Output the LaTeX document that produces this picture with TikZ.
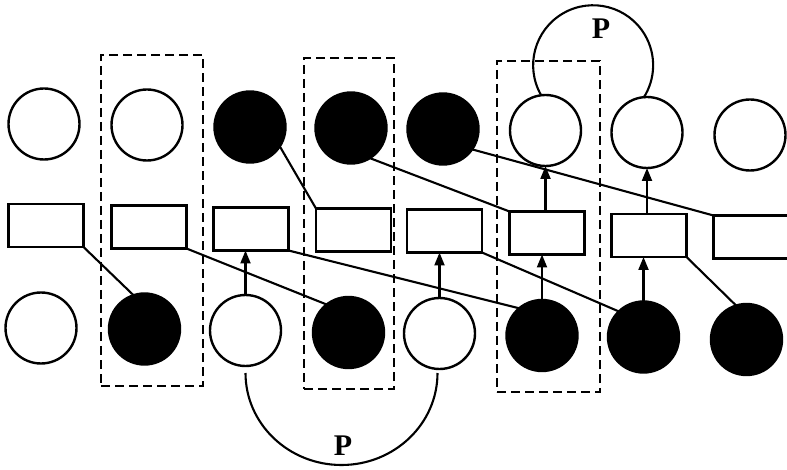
\documentclass[tikz,border=0pt]{standalone}
\usepackage{fontspec}
\setmainfont{Liberation Serif}
\usetikzlibrary{arrows.meta}
\begin{document}
\begin{tikzpicture}[x=1pt,y=-1pt,
  every node/.style={inner sep=0pt, outer sep=0pt},
  wc/.style={circle, draw, line width=2.4pt, minimum size=71pt},
  bc/.style={wc, fill=black},
  bx/.style={rectangle, draw, line width=2.4pt, minimum width=75pt, minimum height=43pt},
  grp/.style={rectangle, draw, line width=2.2pt, dash pattern=on 9pt off 5pt},
  ln/.style={line width=2.1pt},
  ar/.style={line width=2.1pt, -{Triangle[length=13pt,width=10pt]}},
  lab/.style={font=\fontsize{30}{30}\selectfont\bfseries}]
\useasboundingbox (0,0) rectangle (787,470);
% dashed groups
\node[grp, minimum width=102pt, minimum height=331pt] (g1) at (152,220.5) {};
\node[grp, minimum width=90pt, minimum height=331pt] (g2) at (349,223.5) {};
\node[grp, minimum width=103pt, minimum height=331pt] (g3) at (548.5,226.5) {};
% top circles
\node[wc] (t1) at (44,124) {};
\node[wc] (t2) at (147,125) {};
\node[bc] (t3) at (250,127) {};
\node[bc] (t4) at (351,128) {};
\node[bc] (t5) at (443,129) {};
\node[wc] (t6) at (545.5,130.5) {};
\node[wc] (t7) at (647,132.5) {};
\node[wc] (t8) at (750,135) {};
% boxes
\node[bx] (r1) at (46,225.5) {};
\node[bx] (r2) at (149,227) {};
\node[bx] (r3) at (251,229) {};
\node[bx] (r4) at (353.5,230) {};
\node[bx] (r5) at (444.5,231) {};
\node[bx] (r6) at (547,233) {};
\node[bx] (r7) at (649,235.5) {};
\node[bx] (r8) at (751,237) {};
% bottom circles
\node[wc] (b1) at (41,328) {};
\node[bc] (b2) at (144.5,329) {};
\node[wc] (b3) at (245.5,330.5) {};
\node[bc] (b4) at (348.5,332.5) {};
\node[wc] (b5) at (439.5,333.5) {};
\node[bc] (b6) at (542,335.5) {};
\node[bc] (b7) at (643.5,337) {};
\node[bc] (b8) at (746.5,339.5) {};
% lines box -> bottom
\draw[ln] (r1.south east) -- (b2.108);
\draw[ln] (r2.south east) -- (b4.128);
\draw[ln] (r3.south east) -- (b6.130);
\draw[ln] (r5.south east) -- (b7.134);
\draw[ln] (r7.south east) -- (b8.107);
% lines top -> box
\draw[ln] (t3.-33) -- (r4.north west);
\draw[ln] (t4.-58) -- (r6.north west);
\draw[ln] (t5.-35) -- (r8.north west);
% arrows
\draw[ar] (b3.north) -- (b3.north |- r3.south);
\draw[ar] (b5.north) -- (b5.north |- r5.south);
\draw[ar] (b6.north) -- (b6.north |- r6.south);
\draw[ar] (b7.north) -- (b7.north |- r7.south);
\draw[ar] (t6.south |- r6.north) -- (t6.south);
\draw[ar] (t7.south |- r7.north) -- (t7.south);
% P arcs
\draw[ln] (t6.97) arc[start angle=150, end angle=393, radius=60];
\draw[ln] ([yshift=-7pt]b3.south) arc[start angle=180, end angle=0, x radius=96, y radius=92];
\node[lab] (p1) at (601,29) {P};
\node[lab] (p2) at (343,446) {P};
\end{tikzpicture}
\end{document}
